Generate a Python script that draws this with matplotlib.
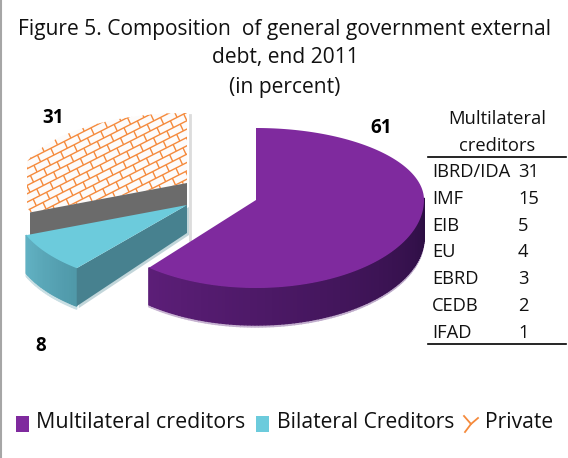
import numpy as np
import matplotlib
matplotlib.use("Agg")
import matplotlib.pyplot as plt
from matplotlib.patches import Polygon, Rectangle
from matplotlib.collections import LineCollection

plt.rcParams["font.family"] = ["Open Sans", "DejaVu Sans"]

# adatok
szeletek = ["Multilateral creditors", "Bilateral Creditors", "Private"]
ertekek = [61, 8, 31]
tabla_nevek = ["IBRD/IDA", "IMF", "EIB", "EU", "EBRD", "CEDB", "IFAD"]
tabla_ertekek = [31, 15, 5, 4, 3, 2, 1]

LILA = "#7f2a9e"
KEK = "#6ccbdc"
NARANCS = "#f58a3c"
SZOVEG = "#111111"


def ives(kozep, rx, ry_hatul, ry_elol, szog):  # pont a perem mentén, szög az óramutató szerint fentről
    szog = np.asarray(szog)
    c = np.cos(szog)
    ry = np.where(c > 0, ry_hatul, ry_elol)
    return np.column_stack([kozep[0] + rx * np.sin(szog), kozep[1] - ry * c])


def keveres(szin1, szin2, t):
    a = np.array(matplotlib.colors.to_rgb(szin1))
    b = np.array(matplotlib.colors.to_rgb(szin2))
    return tuple(a + (b - a) * t)


def oldalfal(ax, pontok, melyseg, szin1, szin2, z):  # oldalfal színátmenettel
    n = len(pontok) - 1
    for i in range(n):
        p, q = pontok[i], pontok[i + 1]
        negyzet = [p, q, q + [0, melyseg], p + [0, melyseg]]
        szin = keveres(szin1, szin2, i / n)
        ax.add_patch(Polygon(negyzet, closed=True, fc=szin, ec=szin, lw=1.0, zorder=z))


szazalek = np.cumsum([0] + ertekek) / sum(ertekek) * 2 * np.pi

fig = plt.figure(figsize=(5.68, 4.58), dpi=100)
ax = fig.add_axes([0, 0, 1, 1])
ax.set_xlim(0, 568)
ax.set_ylim(458, 0)
ax.axis("off")

# keret
ax.plot([1, 1], [0, 458], color="#a6a6a6", lw=1.5, zorder=1)

# magán szelet (téglamintás)
kozep3 = np.array([187.0, 183.0])
ivek3 = ives(kozep3, 168, 70, 80, np.linspace(szazalek[2], szazalek[3], 80))
ivek3[:, 0] = np.maximum(ivek3[:, 0], 27)
lap3 = Polygon(np.vstack([kozep3, ivek3]), closed=True, fc="#fdfbfa", ec="none", zorder=2)
ax.add_patch(lap3)
vonalak = []
irany = np.array([np.cos(np.radians(-27)), np.sin(np.radians(-27))])
le = np.array([0.42, 0.9]) * 7.5
for sor in range(-40, 50):
    alap = np.array([100.0, 165.0]) + sor * le
    vonalak.append([alap - 300 * irany, alap + 300 * irany])
    for k in range(-25, 26):
        eleje = alap + (k + 0.5 * (sor % 2)) * 15.0 * irany
        vonalak.append([eleje, eleje + le])
tegla = LineCollection(vonalak, colors=NARANCS, linewidths=1.0, zorder=3)
ax.add_collection(tegla)
tegla.set_clip_path(lap3)
ax.plot([190, 190], [115, 240], color="#dcdcdc", lw=2, zorder=1.5)

# szürke belső fal
perem = ives(kozep3, 168, 70, 80, [szazalek[2]])[0]
perem[0] = 30
ax.add_patch(Polygon([kozep3, perem, perem + [0, 23], kozep3 + [0, 23]], closed=True,
                     fc="#6b6b6b", ec="none", zorder=4))

# bilaterális szelet
kozep2 = np.array([187.0, 205.0])
ivek2 = ives(kozep2, 173, 70, 82, np.linspace(szazalek[1], szazalek[2], 30))
oldalfal(ax, ivek2[::-1], 41, "#c9dfe4", "#c9dfe4", 4.5)
ax.add_patch(Polygon([kozep2 + [2, 2], ivek2[0] + [2, 2], ivek2[0] + [2, 40], kozep2 + [2, 30]],
                     closed=True, fc="#c2d6da", ec="none", zorder=4.5))
oldalfal(ax, ivek2[::-1], 38, "#62b2c4", "#4f98a8", 5)
ax.add_patch(Polygon([kozep2, ivek2[0], ivek2[0] + [0, 38], kozep2 + [0, 28]], closed=True,
                     fc="#47818f", ec="none", zorder=5))
ax.add_patch(Polygon(np.vstack([kozep2, ivek2]), closed=True, fc=KEK, ec="none", zorder=6))

# multilaterális szelet
kozep1 = np.array([256.0, 200.0])
szogek1 = np.linspace(szazalek[0], szazalek[1], 180)
ivek1 = ives(kozep1, 168, 72, 88, szogek1)
szog_fal = ivek1[np.cos(szogek1) < 0.05]
oldalfal(ax, szog_fal[::-1], 39, "#c8b4d2", "#b9a6c6", 6.5)
oldalfal(ax, szog_fal[::-1], 37, "#5c1e78", "#2c0e42", 7)
ax.add_patch(Polygon(np.vstack([kozep1, ivek1]), closed=True, fc=LILA, ec="none", zorder=8))

# cím
cim = ["Figure 5. Composition  of general government external", "debt, end 2011", "(in percent)"]
for i, sor in enumerate(cim):
    ax.text(285, 29 + i * 29, sor, fontsize=15.1, ha="center", va="center", color=SZOVEG)

# adatfeliratok
ax.text(381, 128, str(ertekek[0]), fontsize=13.5, fontweight="bold", ha="center", va="center")
ax.text(41, 346, str(ertekek[1]), fontsize=13.5, fontweight="bold", ha="center", va="center")
ax.text(53, 118, str(ertekek[2]), fontsize=13.5, fontweight="bold", ha="center", va="center")

# táblázat
ax.text(497, 119, "Multilateral", fontsize=13.2, ha="center", va="center", color=SZOVEG)
ax.text(497, 146, "creditors", fontsize=13.2, ha="center", va="center", color=SZOVEG)
ax.plot([428, 566], [157, 157], color="black", lw=1.2)
ax.plot([428, 566], [344, 344], color="black", lw=1.2)
for i, (nev, ertek) in enumerate(zip(tabla_nevek, tabla_ertekek)):
    y = 172 + i * 26.8
    ax.text(432, y, nev, fontsize=13.2, ha="left", va="center", color=SZOVEG)
    ax.text(518, y, str(ertek), fontsize=13.2, ha="left", va="center", color=SZOVEG)

# jelmagyarázat
ax.add_patch(Rectangle((16, 416), 13, 16, fc=LILA, ec="none"))
ax.text(36, 423, szeletek[0], fontsize=15.4, ha="left", va="center", color=SZOVEG)
ax.add_patch(Rectangle((256, 416), 13, 16, fc=KEK, ec="none"))
ax.text(277, 423, szeletek[1], fontsize=15.2, ha="left", va="center", color=SZOVEG)
ax.plot([464, 471, 478], [416, 424, 418], color=NARANCS, lw=1.3)
ax.plot([471, 465], [424, 432], color=NARANCS, lw=1.3)
ax.text(485, 423, szeletek[2], fontsize=15.2, ha="left", va="center", color=SZOVEG)

fig.savefig("out.png", dpi=100)
